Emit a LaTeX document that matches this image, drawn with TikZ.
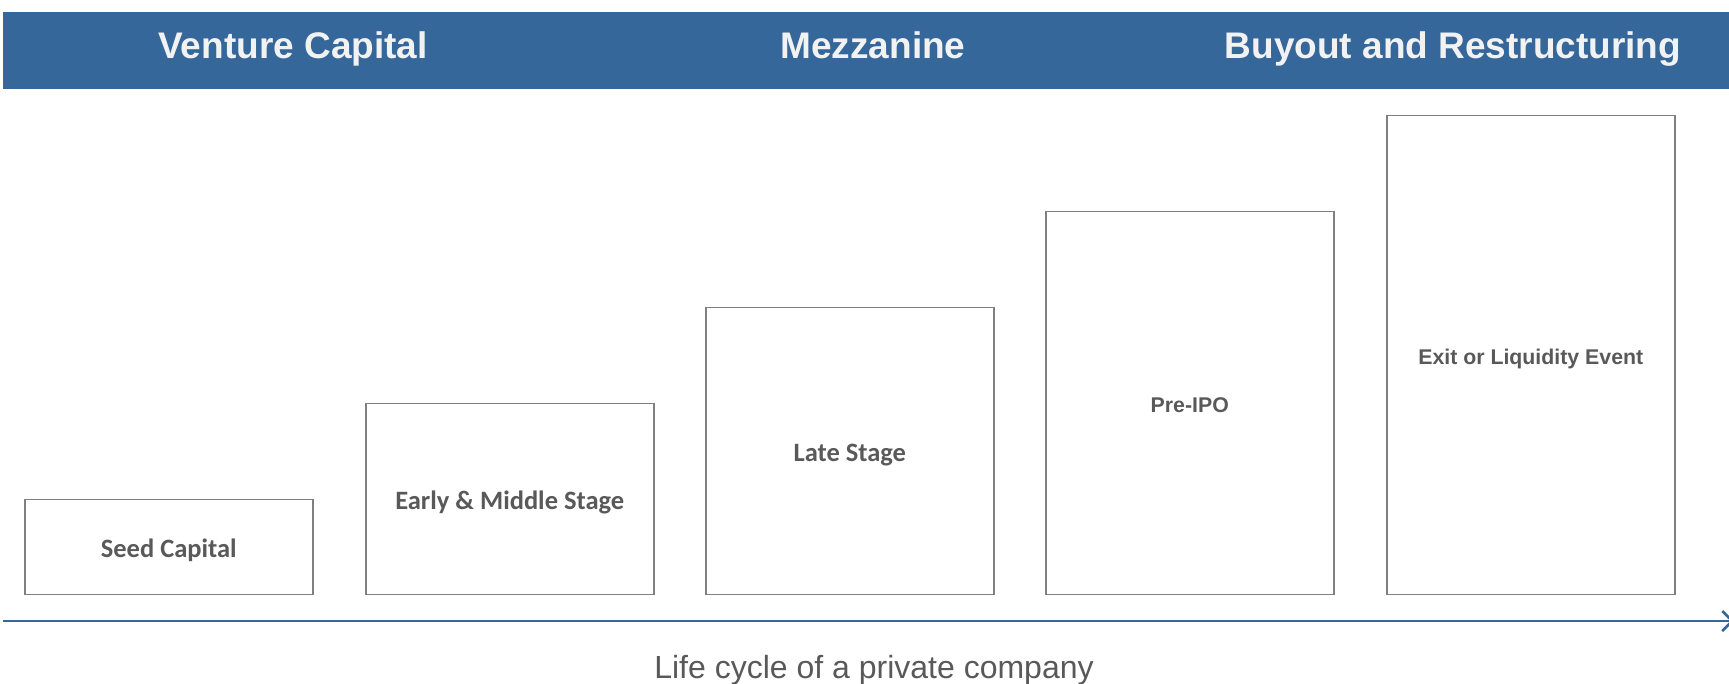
\documentclass[tikz,border=0pt]{standalone}
\usepackage{fontspec}
\setmainfont{Liberation Sans}
\newfontfamily\carlito{Carlito}
\usepackage{xcolor}
\usetikzlibrary{positioning, arrows.meta}

\definecolor{bandblue}{HTML}{35679A}
\definecolor{boxgray}{HTML}{808080}
\definecolor{textgray}{HTML}{595959}
\definecolor{headwhite}{HTML}{F2F2F2}

\begin{document}
\begin{tikzpicture}[x=1pt, y=-1pt,
        stagebox/.style={draw=boxgray, line width=1.5pt, minimum width=288pt, inner sep=0pt, anchor=south west, text=textgray, text depth=0pt},
        calibrilabel/.style={font=\carlito\fontsize{26.5}{32}\selectfont\bfseries, text height=21pt},
        ariallabel/.style={font=\fontsize{21.3}{26}\selectfont\bfseries, text height=19.5pt},
        headtext/.style={text=headwhite, anchor=base, font=\fontsize{37}{44}\selectfont\bfseries}]
        \useasboundingbox (0,0) rectangle (1729,683);

        % 見出しの帯
        \fill[bandblue] (3,12) rectangle (1729,89);
        \node[headtext] (vc) at (293,58) {Venture Capital};
        \node[headtext] (mezz) at (873,58) {Mezzanine};
        \node[headtext] (buyout) at (1453,58) {Buyout and Restructuring};

        % 段階の箱
        \node[stagebox, calibrilabel, minimum height=95pt] (seed) at (24,595) {Seed Capital};
        \node[stagebox, calibrilabel, minimum height=191pt] (early) at (365,595) {Early \& Middle Stage};
        \node[stagebox, calibrilabel, minimum height=287pt] (late) at (705,595) {Late Stage};
        \node[stagebox, ariallabel, minimum height=383pt] (preipo) at (1045,595) {Pre-IPO};
        \node[stagebox, ariallabel, minimum height=479pt] (exit) at (1386,595) {Exit or Liquidity Event};

        % 時間軸
        \coordinate (axstart) at (3,621);
        \coordinate (axend) at (1734,621);
        \draw[bandblue, line width=2.5pt, -{Straight Barb[length=10pt,width=20pt]}] (axstart) -- (axend);
        \node[text=textgray, anchor=base, font=\fontsize{32}{38}\selectfont] (cycle) at (874,678) {Life cycle of a private company};
    \end{tikzpicture}
\end{document}
